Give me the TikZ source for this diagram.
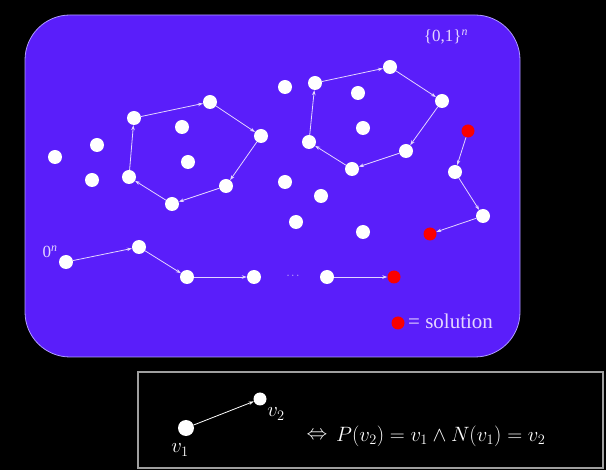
\documentclass[tikz,border=0pt]{standalone}
\usepackage{fontspec}
\setmainfont{Liberation Serif}
\usetikzlibrary{arrows.meta}
\definecolor{bgblue}{RGB}{90,30,250}
\definecolor{lav}{RGB}{228,214,255}
\definecolor{rim}{RGB}{175,155,255}
\definecolor{sol}{RGB}{250,0,0}
\begin{document}
\begin{tikzpicture}[x=1pt,y=-1pt,
  dot/.style={circle, fill=white, inner sep=0pt, minimum size=14pt},
  sdot/.style={circle, fill=sol, inner sep=0pt, minimum size=13pt},
  arr/.style={lav, line width=0.8pt, -{Stealth[length=5pt,width=3.5pt]}},
  lab/.style={text=lav, inner sep=0pt}]
\useasboundingbox[fill=black] (0,0) rectangle (606,470);
\draw[rim, fill=bgblue, line width=0.8pt, rounded corners=45pt] (25,15) rectangle (520,357);

% left cycle
\node[dot] (a1) at (134,118) {};
\node[dot] (a2) at (210,102) {};
\node[dot] (a3) at (261,136) {};
\node[dot] (a4) at (226,186) {};
\node[dot] (a5) at (172,204) {};
\node[dot] (a6) at (129,177) {};
\node[dot] (ai1) at (182,127) {};
\node[dot] (ai2) at (188,162) {};
\node[dot] (l1) at (55,157) {};
\node[dot] (l2) at (97,145) {};
\node[dot] (l3) at (92,180) {};
\draw[arr] (a1) -- (a2);
\draw[arr] (a2) -- (a3);
\draw[arr] (a3) -- (a4);
\draw[arr] (a4) -- (a5);
\draw[arr] (a5) -- (a6);
\draw[arr] (a6) -- (a1);

% right cycle
\node[dot] (b1) at (315,83) {};
\node[dot] (b2) at (390,67) {};
\node[dot] (b3) at (442,101) {};
\node[dot] (b4) at (406,151) {};
\node[dot] (b5) at (352,169) {};
\node[dot] (b6) at (309,142) {};
\node[dot] (bi1) at (358,93) {};
\node[dot] (bi2) at (363,128) {};
\draw[arr] (b1) -- (b2);
\draw[arr] (b2) -- (b3);
\draw[arr] (b3) -- (b4);
\draw[arr] (b4) -- (b5);
\draw[arr] (b5) -- (b6);
\draw[arr] (b6) -- (b1);

% isolated middle
\node[dot] (m1) at (285,87) {};
\node[dot] (m2) at (285,182) {};
\node[dot] (m3) at (321,196) {};
\node[dot] (m4) at (296,222) {};
\node[dot] (m5) at (363,232) {};

% right chain
\node[sdot] (r1) at (468,131) {};
\node[dot] (c1) at (455,172) {};
\node[dot] (c2) at (483,216) {};
\node[sdot] (r2) at (430,234) {};
\draw[arr] (r1) -- (c1);
\draw[arr] (c1) -- (c2);
\draw[arr] (c2) -- (r2);

% bottom chain
\node[lab, font=\fontsize{17}{19}\selectfont] (zero) at (50,252) {0\textsuperscript{\itshape n}};
\node[dot] (d0) at (66,262) {};
\node[dot] (d1) at (139,247) {};
\node[dot] (d2) at (187,277) {};
\node[dot] (d3) at (254,277) {};
\node[lab, font=\fontsize{11}{13}\selectfont] (dd) at (293,276) {$\cdots$};
\node[dot] (d4) at (327,277) {};
\node[sdot] (d5) at (394,277) {};
\draw[arr] (d0) -- (d1);
\draw[arr] (d1) -- (d2);
\draw[arr] (d2) -- (d3);
\draw[arr] (d4) -- (d5);

% labels
\node[lab, font=\fontsize{17}{19}\selectfont] (set) at (446,37) {\{0,1\}\textsuperscript{\itshape n}};
\node[sdot] (leg) at (398,323) {};
\node[lab, anchor=west, font=\fontsize{21}{23}\selectfont] (soltxt) at (408,321) {= solution};

% bottom box
\draw[gray!75, line width=1.2pt] (138,372) rectangle (603,468);
\node[circle, fill=white, inner sep=0pt, minimum size=16pt] (v1) at (186,428) {};
\node[circle, fill=white, inner sep=0pt, minimum size=13pt] (v2) at (260,399) {};
\draw[white, line width=0.8pt, -{Stealth[length=5pt,width=3.5pt]}] (v1) -- (v2);
\node[text=white, inner sep=0pt, font=\fontsize{21}{23}\selectfont] (v1l) at (180,450) {$v_1$};
\node[text=white, inner sep=0pt, font=\fontsize{21}{23}\selectfont] (v2l) at (276,414) {$v_2$};
\node[text=white, inner sep=0pt, font=\fontsize{22}{24}\selectfont] (iff) at (317,436) {$\Leftrightarrow$};
\node[text=white, inner sep=0pt, anchor=west, font=\fontsize{22}{24}\selectfont] (form) at (336,436) {$P(v_2)=v_1\wedge N(v_1)=v_2$};
\end{tikzpicture}
\end{document}
